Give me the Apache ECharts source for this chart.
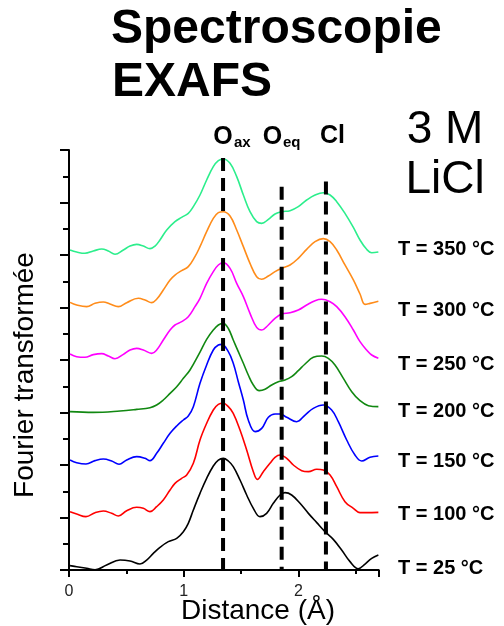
<!DOCTYPE html>
<html>
<head>
<meta charset="utf-8">
<script src="https://cdn.jsdelivr.net/npm/echarts@6/dist/echarts.min.js"></script>
<style>
html,body{margin:0;padding:0;background:#fff;}
#chart{width:504px;height:626px;}
</style>
</head>
<body>
<div id="chart"></div>
<script>
// ---- data (distance in Å, stacked Fourier transform amplitude) ----
const labels = ['T = 25 °C','T = 100 °C','T = 150 °C','T = 200 °C','T = 250 °C','T = 300 °C','T = 350 °C'];
const colors = ['#000000','#ff0000','#0000ff','#118811','#ff00ff','#ff8c1a','#2cee8c'];

const t25 = [[0.009,0.083],[0.067,0.063],[0.154,0.032],[0.227,0.006],[0.328,0.095],[0.445,0.19],[0.532,0.171],[0.619,0.114],[0.677,0.19],[0.735,0.317],[0.793,0.432],[0.866,0.54],[0.939,0.603],[0.997,0.73],[1.04,0.889],[1.084,1.143],[1.142,1.46],[1.2,1.746],[1.258,1.981],[1.302,2.095],[1.345,2.127],[1.389,2.076],[1.432,1.968],[1.491,1.714],[1.549,1.429],[1.607,1.175],[1.665,1.016],[1.723,1.079],[1.781,1.27],[1.84,1.429],[1.883,1.473],[1.941,1.429],[2.014,1.27],[2.087,1.079],[2.16,0.902],[2.232,0.73],[2.304,0.584],[2.377,0.381],[2.45,0.159],[2.522,0.025],[2.581,0.114],[2.639,0.222],[2.697,0.286]];
const t100 = [[0.009,1.111],[0.067,1.067],[0.148,1.016],[0.227,1.092],[0.299,1.124],[0.372,1.079],[0.43,1.029],[0.503,1.13],[0.59,1.194],[0.648,1.175],[0.706,1.111],[0.764,1.206],[0.822,1.333],[0.881,1.524],[0.924,1.651],[0.982,1.746],[1.026,1.81],[1.084,2.032],[1.142,2.476],[1.2,2.794],[1.258,3.048],[1.302,3.156],[1.345,3.175],[1.389,3.111],[1.432,2.984],[1.491,2.667],[1.549,2.286],[1.607,1.873],[1.642,1.727],[1.694,1.873],[1.752,2.032],[1.796,2.146],[1.84,2.19],[1.898,2.127],[1.956,2.0],[2.029,1.892],[2.087,1.873],[2.16,1.918],[2.217,1.905],[2.276,1.81],[2.334,1.587],[2.406,1.302],[2.479,1.175],[2.537,1.092],[2.595,1.092],[2.697,1.098]];
const t150 = [[0.009,2.095],[0.067,2.044],[0.148,2.019],[0.227,2.083],[0.299,2.114],[0.372,2.076],[0.436,2.013],[0.503,2.095],[0.59,2.159],[0.663,2.127],[0.706,2.083],[0.764,2.222],[0.822,2.413],[0.881,2.603],[0.939,2.743],[0.997,2.857],[1.04,2.933],[1.084,3.111],[1.142,3.556],[1.2,3.905],[1.258,4.19],[1.302,4.286],[1.331,4.298],[1.389,4.159],[1.432,3.937],[1.476,3.587],[1.52,3.238],[1.563,2.857],[1.622,2.635],[1.68,2.698],[1.738,2.908],[1.796,2.971],[1.84,2.971],[1.898,2.908],[1.985,2.825],[2.058,2.952],[2.13,3.079],[2.217,3.143],[2.29,3.048],[2.348,2.825],[2.421,2.476],[2.493,2.19],[2.552,2.076],[2.624,2.146],[2.697,2.171]];
const t200 = [[0.009,3.016],[0.212,3.003],[0.445,3.029],[0.59,3.06],[0.706,3.092],[0.764,3.143],[0.822,3.238],[0.881,3.365],[0.939,3.492],[0.997,3.651],[1.055,3.81],[1.142,4.15],[1.2,4.394],[1.258,4.571],[1.302,4.667],[1.345,4.698],[1.389,4.6],[1.432,4.381],[1.476,4.159],[1.52,3.937],[1.563,3.714],[1.607,3.524],[1.659,3.416],[1.709,3.441],[1.767,3.524],[1.825,3.587],[1.883,3.619],[1.941,3.683],[1.999,3.797],[2.058,3.924],[2.13,4.051],[2.203,4.076],[2.261,4.032],[2.319,3.905],[2.392,3.651],[2.465,3.397],[2.537,3.225],[2.61,3.13],[2.697,3.111]];
const t250 = [[0.009,4.114],[0.067,4.063],[0.139,4.051],[0.212,4.102],[0.285,4.121],[0.343,4.076],[0.401,4.025],[0.474,4.108],[0.532,4.19],[0.59,4.222],[0.648,4.19],[0.721,4.127],[0.764,4.19],[0.822,4.381],[0.881,4.571],[0.924,4.667],[0.982,4.73],[1.04,4.825],[1.098,5.016],[1.142,5.175],[1.2,5.46],[1.258,5.683],[1.302,5.81],[1.345,5.854],[1.404,5.746],[1.462,5.46],[1.52,5.206],[1.578,4.889],[1.636,4.622],[1.68,4.571],[1.738,4.667],[1.796,4.794],[1.854,4.876],[1.927,4.901],[1.999,4.952],[2.072,5.048],[2.145,5.13],[2.203,5.156],[2.276,5.111],[2.334,5.016],[2.406,4.825],[2.479,4.571],[2.537,4.349],[2.595,4.19],[2.639,4.095],[2.697,4.032]];
const t300 = [[0.009,5.098],[0.067,5.048],[0.154,5.016],[0.227,5.079],[0.299,5.105],[0.357,5.067],[0.43,5.016],[0.503,5.092],[0.604,5.175],[0.663,5.143],[0.721,5.092],[0.764,5.156],[0.822,5.333],[0.881,5.524],[0.924,5.619],[0.982,5.702],[1.04,5.778],[1.098,5.968],[1.142,6.159],[1.2,6.444],[1.258,6.698],[1.302,6.806],[1.345,6.825],[1.404,6.743],[1.462,6.476],[1.52,6.159],[1.578,5.841],[1.636,5.587],[1.68,5.537],[1.738,5.6],[1.796,5.683],[1.854,5.746],[1.927,5.81],[1.999,5.937],[2.072,6.108],[2.145,6.254],[2.217,6.311],[2.276,6.254],[2.334,6.095],[2.406,5.81],[2.479,5.524],[2.537,5.257],[2.581,5.06],[2.624,5.079],[2.697,5.118]];
const t350 = [[0.009,6.095],[0.067,6.057],[0.139,6.032],[0.212,6.076],[0.285,6.114],[0.343,6.076],[0.401,6.013],[0.474,6.095],[0.532,6.171],[0.59,6.203],[0.648,6.171],[0.706,6.121],[0.75,6.171],[0.793,6.286],[0.852,6.476],[0.924,6.635],[0.982,6.717],[1.04,6.794],[1.084,6.921],[1.142,7.143],[1.2,7.429],[1.258,7.683],[1.302,7.797],[1.345,7.829],[1.404,7.746],[1.462,7.492],[1.52,7.143],[1.578,6.825],[1.636,6.635],[1.68,6.603],[1.738,6.679],[1.796,6.781],[1.854,6.825],[1.927,6.844],[1.999,6.921],[2.072,7.048],[2.145,7.143],[2.217,7.187],[2.276,7.143],[2.334,7.016],[2.406,6.794],[2.479,6.527],[2.537,6.286],[2.595,6.108],[2.639,6.044],[2.697,6.057]];
const curves = [t25,t100,t150,t200,t250,t300,t350];

// reference peak positions (Å) and the top of each dashed marker
const peakX = [1.343, 1.854, 2.24];
const peakTop = [7.85, 7.3, 7.4];

const chart = echarts.init(document.getElementById('chart'), null, {renderer:'canvas'});
const F = '"Liberation Sans", Arial, sans-serif';

const series = curves.map((d,i)=>({
  type:'line', data:d, smooth:0.4, symbol:'none',
  lineStyle:{color:colors[i], width:1.6}, z:2, silent:true
}));
peakX.forEach((x,i)=>{
  series.push({type:'line', data:[[x,peakTop[i]],[x,0]], symbol:'none', z:3, silent:true,
    lineStyle:{color:'#000', width:4, type:[13,7]}});
});

const tempY = [567, 513, 460, 410, 363, 309, 248];
const graphic = [
  {type:'text', x:111, y:30, style:{text:'Spectroscopie', font:'bold 48px '+F, fill:'#000', textAlign:'left', textVerticalAlign:'middle'}},
  {type:'text', x:112, y:83, style:{text:'EXAFS', font:'bold 48px '+F, fill:'#000', textAlign:'left', textVerticalAlign:'middle'}},
  {type:'text', x:445, y:130, style:{text:'3 M', font:'46px '+F, fill:'#000', textAlign:'center', textVerticalAlign:'middle'}},
  {type:'text', x:445, y:180, style:{text:'LiCl', font:'46px '+F, fill:'#000', textAlign:'center', textVerticalAlign:'middle'}},
  {type:'text', x:223, y:137.5, style:{text:'O', font:'bold 25px '+F, fill:'#000', textAlign:'center', textVerticalAlign:'middle'}},
  {type:'text', x:234, y:142.6, style:{text:'ax', font:'bold 15px '+F, fill:'#000', textAlign:'left', textVerticalAlign:'middle'}},
  {type:'text', x:272.5, y:137.5, style:{text:'O', font:'bold 25px '+F, fill:'#000', textAlign:'center', textVerticalAlign:'middle'}},
  {type:'text', x:283, y:142.6, style:{text:'eq', font:'bold 15px '+F, fill:'#000', textAlign:'left', textVerticalAlign:'middle'}},
  {type:'text', x:320, y:136.5, style:{text:'Cl', font:'bold 25px '+F, fill:'#000', textAlign:'left', textVerticalAlign:'middle'}},
  {type:'text', x:181, y:611, style:{text:'Distance (Å)', font:'28px '+F, fill:'#000', textAlign:'left', textVerticalAlign:'middle'}},
  {type:'text', x:25, y:375, rotation:Math.PI/2, style:{text:'Fourier transformée', font:'28px '+F, fill:'#000', textAlign:'center', textVerticalAlign:'middle'}}
];
labels.forEach((t,i)=>{
  graphic.push({type:'text', x:398, y:tempY[i]+1, style:{text:t, font:'bold 20px '+F, fill:'#000', textAlign:'left', textVerticalAlign:'middle'}});
});

chart.setOption({
  animation:false,
  backgroundColor:'#ffffff',
  grid:{left:69, top:150, width:309.7, height:420, containLabel:false},
  xAxis:{type:'value', min:0, max:2.7, interval:1,
    axisLine:{show:true, onZero:false, lineStyle:{color:'#000', width:2}},
    axisTick:{show:true, inside:false, length:7, lineStyle:{color:'#000', width:2}},
    minorTick:{show:true, splitNumber:2, length:4, lineStyle:{color:'#000', width:2}},
    axisLabel:{fontSize:16, color:'#222', margin:14, fontFamily:'Liberation Sans', showMaxLabel:false},
    splitLine:{show:false}, minorSplitLine:{show:false}},
  yAxis:{type:'value', min:0, max:8, interval:1,
    axisLine:{show:true, onZero:false, lineStyle:{color:'#000', width:2}},
    axisTick:{show:true, inside:false, length:9, lineStyle:{color:'#000', width:2}},
    minorTick:{show:true, splitNumber:2, length:6, lineStyle:{color:'#000', width:2}},
    axisLabel:{show:false},
    splitLine:{show:false}, minorSplitLine:{show:false}},
  graphic:graphic,
  series:series
});
</script>
</body>
</html>
